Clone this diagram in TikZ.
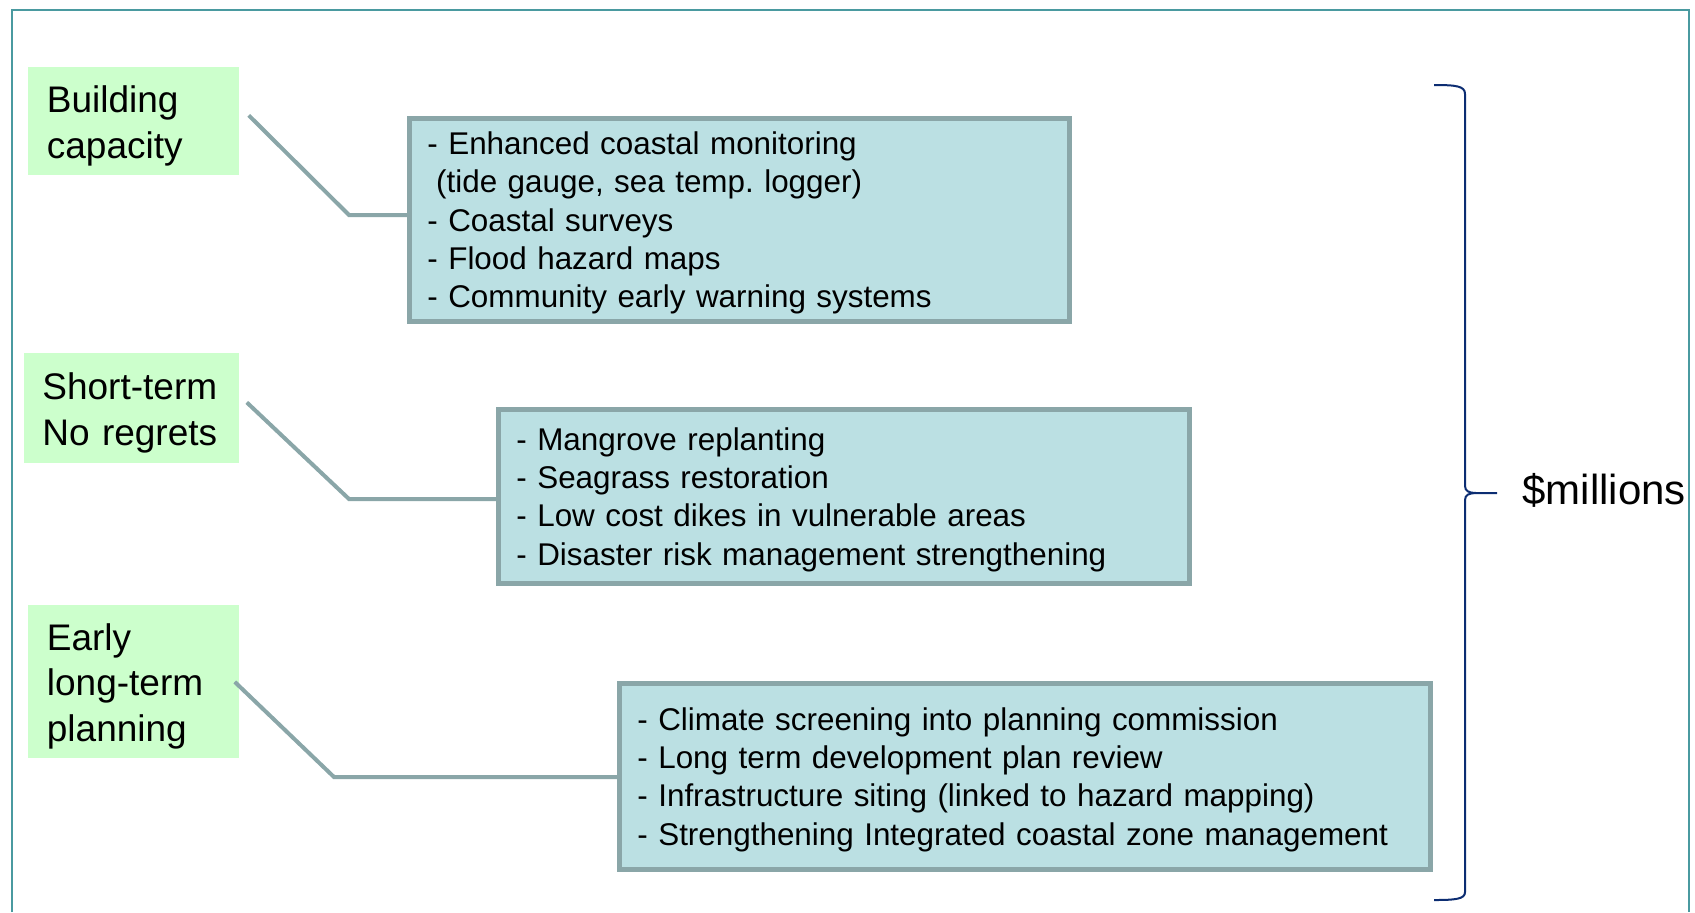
\documentclass[tikz,border=0pt]{standalone}
\usepackage{fontspec}
\setmainfont{Liberation Sans}
\usepackage{xcolor}
\usetikzlibrary{positioning}
\frenchspacing

\definecolor{framecol}{HTML}{4A9AA0}
\definecolor{stagegreen}{HTML}{CCFFCC}
\definecolor{itemfill}{HTML}{BBE0E3}
\definecolor{itemline}{HTML}{8AA6A8}
\definecolor{bracecol}{HTML}{0C2D72}

\tikzset{
    stage/.style={fill=stagegreen, anchor=north west, align=left, inner xsep=9.25pt, inner ysep=0pt,
        font=\fontsize{18.5}{22.7}\selectfont, execute at begin node={\rule{0pt}{17.8pt}}},
    itembox/.style={draw=itemline, fill=itemfill, line width=2.4pt, anchor=north west, align=left,
        inner xsep=9pt, inner ysep=0pt, font=\fontsize{15.7}{19.2}\selectfont,
        execute at begin node={\rule{0pt}{14.5pt}}},
    link/.style={draw=itemline, line width=2pt},
    bracket/.style={draw=bracecol, line width=1pt},
    money/.style={inner sep=0pt, anchor=west, font=\fontsize{21}{25}\selectfont}
}

\begin{document}
\begin{tikzpicture}[x=0.5pt, y=-0.5pt]
        \useasboundingbox (0,0) rectangle (1695,912);
        \draw[framecol, line width=1.2pt] (12,912) |- (1689,10) -- (1689,912);

        % stages
        \node[stage, text width=87pt, minimum width=105.5pt, minimum height=54pt] (g1) at (28,67)
            {Building\\capacity};
        \node[stage, text width=89.5pt, minimum width=107.5pt, minimum height=55pt, inner xsep=9pt] (g2) at (24,353)
            {Short-term\\No regrets};
        \node[stage, text width=87pt, minimum width=105.5pt, minimum height=76.5pt] (g3) at (28,605)
            {Early\\long-term\\planning};

        % actions
        \node[itembox, text width=312pt, minimum width=330pt, minimum height=101.5pt] (b1) at (407,116)
            {- Enhanced coastal monitoring\\\hspace*{0.28em}(tide gauge, sea temp. logger)\\- Coastal surveys\\- Flood hazard maps\\- Community early warning systems};
        \node[itembox, text width=327.5pt, minimum width=345.5pt, minimum height=87pt] (b2) at (496,407)
            {- Mangrove replanting\\- Seagrass restoration\\- Low cost dikes in vulnerable areas\\- Disaster risk management strengthening};
        \node[itembox, text width=387.5pt, minimum width=405.5pt, minimum height=93pt] (b3) at (617,681)
            {- Climate screening into planning commission\\- Long term development plan review\\- Infrastructure siting (linked to hazard mapping)\\- Strengthening Integrated coastal zone management};

        \coordinate (k1) at (349,215);
        \coordinate (k2) at (349,499);
        \coordinate (k3) at (334,777);
        \draw[link] ([xshift=4.5pt, yshift=3pt]g1.east) -- (k1) -- (k1 -| b1.west);
        \draw[link] ([xshift=3.5pt, yshift=3pt]g2.east) -- (k2) -- (k2 -| b2.west);
        \draw[link] ([xshift=-2.5pt]g3.east) -- (k3) -- (k3 -| b3.west);

        % cost brace
        \coordinate (btop) at (1434,85);
        \coordinate (bbot) at (1434,900);
        \coordinate (tip) at (1497,493);
        \draw[bracket] (btop) .. controls (1456,85) and (1465,86) .. (1465,94) -- (1465,486)
            .. controls (1465,491) and (1469,493) .. (1476,493) -- (tip)
            (1476,493) .. controls (1469,493) and (1465,495) .. (1465,500) -- (1465,892)
            .. controls (1465,899) and (1456,900) .. (bbot);
        \node[money, right=12.5pt of tip, yshift=1.5pt] (cost) {\$millions};
\end{tikzpicture}
\end{document}
